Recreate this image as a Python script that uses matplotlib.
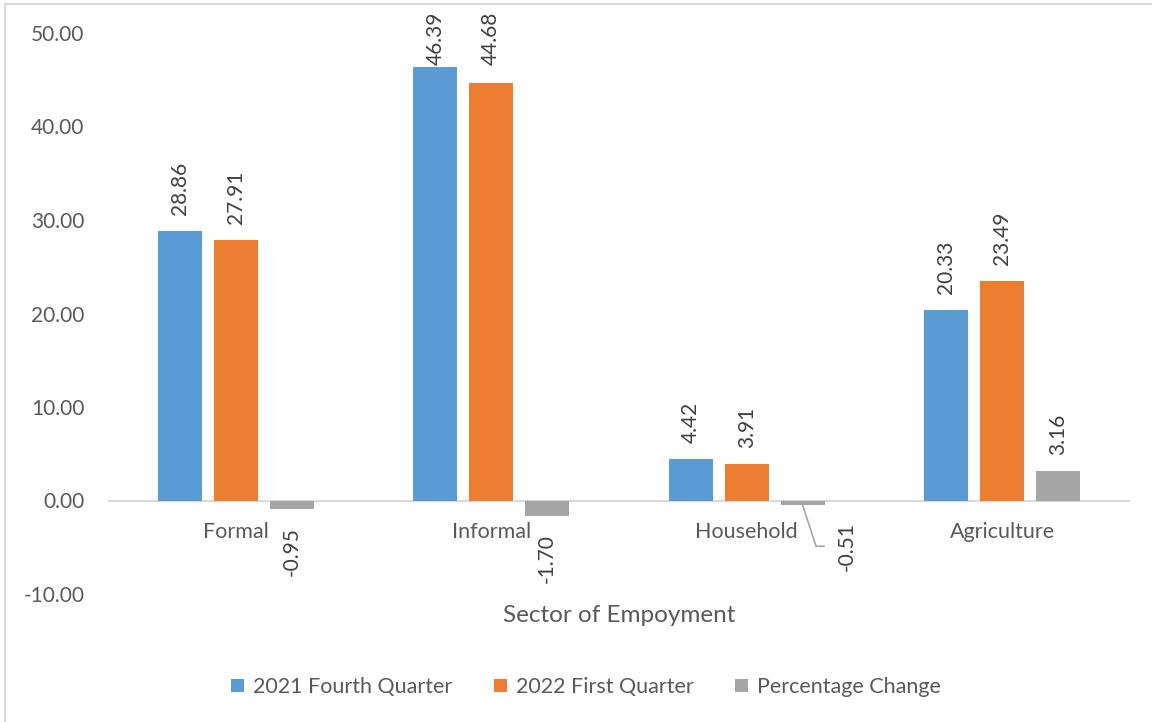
import numpy as np
import matplotlib
matplotlib.use("Agg")
import matplotlib.pyplot as plt
from matplotlib.patches import Rectangle

plt.rcParams["font.family"] = ["Lato", "DejaVu Sans"]

sectors = ["Formal", "Informal", "Household", "Agriculture"]
series_names = ["2021 Fourth Quarter", "2022 First Quarter", "Percentage Change"]
q4_2021 = [28.86, 46.39, 4.42, 20.33]
q1_2022 = [27.91, 44.68, 3.91, 23.49]
pct_change = [-0.95, -1.70, -0.51, 3.16]
yticks = [-10, 0, 10, 20, 30, 40, 50]

colors = ["#5B9BD5", "#ED7D31", "#A5A5A5"]
text_col = "#595959"
lab_col = "#404040"
fs = 15.5
lab_fs = 15

W, H = 1152, 722
fig = plt.figure(figsize=(W / 100, H / 100), dpi=100)
ax = fig.add_axes([108 / W, 1 - 594 / H, (1130 - 108) / W, (594 - 33) / H])

# chart-area border (cut off on the right and bottom)
fig.patches.append(Rectangle((5 / W, -0.1), 1.2, 1 - 4 / H + 0.1, transform=fig.transFigure,
                             fill=False, edgecolor="#d9d9d9", lw=1.5))

ax.set_xlim(-0.5, len(sectors) - 0.5)
ax.set_ylim(-10, 50)

x = np.arange(len(sectors))
width = 0.172
step = 0.219
all_series = [q4_2021, q1_2022, pct_change]

# labels that would run off the top get pinned just under the chart border
px = 60 / 561  # data units per pixel
top_y = 50 + 21 * px
pad_y = 16 * px
lab_len = 55 * px

for i, (vals, name, col) in enumerate(zip(all_series, series_names, colors)):
    xs = x + (i - 1) * step
    ax.bar(xs, vals, width, color=col, label=name, zorder=3)
    for j, (xv, v) in enumerate(zip(xs, vals)):
        lab = f"{v:.2f}"
        if name == "Percentage Change" and sectors[j] == "Household":
            # label pushed off to the side with a leader line
            ax.annotate(lab, xy=(xv, v), xytext=(44, -41), textcoords="offset pixels",
                        rotation=90, ha="center", va="center", fontsize=lab_fs, color=lab_col,
                        arrowprops=dict(arrowstyle="-", color="#a6a6a6", lw=1.2,
                                        connectionstyle="angle,angleA=0,angleB=-72,rad=0",
                                        shrinkA=7, shrinkB=0))
        elif v >= 0:
            if v + pad_y + lab_len > top_y:
                ax.text(xv, top_y, lab, rotation=90, ha="center", va="top",
                        fontsize=lab_fs, color=lab_col, clip_on=False)
            else:
                ax.annotate(lab, xy=(xv, v), xytext=(0, 16), textcoords="offset pixels",
                            rotation=90, ha="center", va="bottom", fontsize=lab_fs, color=lab_col)
        else:
            ax.annotate(lab, xy=(xv, v), xytext=(0, -18), textcoords="offset pixels",
                        rotation=90, ha="center", va="top", fontsize=lab_fs, color=lab_col)

ax.axhline(0, color="#d9d9d9", lw=1.5, zorder=2)

# category names sit just under the zero line
for xv, name in zip(x, sectors):
    ax.annotate(name, xy=(xv, 0), xytext=(0, -32), textcoords="offset pixels",
                ha="center", va="center", fontsize=fs, color=text_col)

ax.set_yticks(yticks)
ax.set_yticklabels([f"{t:.2f}" for t in yticks])
ax.set_xticks([])
ax.tick_params(axis="y", length=0, pad=17, labelsize=15, labelcolor=text_col)
for s in ax.spines.values():
    s.set_visible(False)

fig.text(619 / W, 1 - 615 / H, "Sector of Empoyment", ha="center", va="center",
         fontsize=17.5, color=text_col)

fig.legend(loc="center", bbox_to_anchor=(586 / W, 1 - 687 / H), ncol=3, frameon=False,
           fontsize=fs, labelcolor=text_col, handlelength=0.6, handleheight=0.6,
           handletextpad=0.4, columnspacing=1.95)

fig.savefig("out.png", dpi=100)
